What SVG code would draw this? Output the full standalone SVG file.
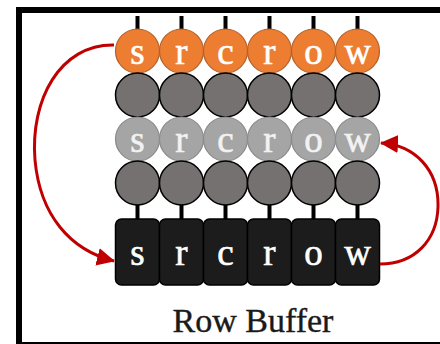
<svg xmlns="http://www.w3.org/2000/svg" width="440" height="344" viewBox="0 0 440 344">
<style>
.stem{stroke:#000;stroke-width:4}
.or{fill:#ED7D31;stroke:#B5602A;stroke-width:1.2}
.dk{fill:#767171;stroke:#000;stroke-width:1.5}
.lt{fill:#A5A5A5;stroke:#8A8A8A;stroke-width:1.2}
.bx{fill:#1C1C1C;stroke:#000;stroke-width:1.5}
.ch{font-family:"Liberation Serif","DejaVu Serif",serif;font-size:37px;fill:#fff;stroke:#fff;stroke-width:0.6;text-anchor:middle}
.ch2{fill:#F2F2F2;stroke:#F2F2F2}
.arr{fill:none;stroke:#C00000;stroke-width:3}
.title{font-family:"Liberation Serif","DejaVu Serif",serif;font-size:34px;fill:#1a1a1a;stroke:#1a1a1a;stroke-width:0.4;text-anchor:middle}
</style>
<defs>
<marker id="ah" markerUnits="userSpaceOnUse" markerWidth="22" markerHeight="22" viewBox="0 0 22 22" refX="17" refY="9" orient="auto">
<path d="M0,0 L18,9 L0,18 Z" fill="#C00000"/>
</marker>
</defs>
<rect x="19" y="10" width="430" height="335" fill="#fff" stroke="#000" stroke-width="6"/>
<g id="stems">
<line class="stem" x1="137.5" y1="16" x2="137.5" y2="30"/>
<line class="stem" x1="181.5" y1="16" x2="181.5" y2="30"/>
<line class="stem" x1="225.5" y1="16" x2="225.5" y2="30"/>
<line class="stem" x1="269.5" y1="16" x2="269.5" y2="30"/>
<line class="stem" x1="313.5" y1="16" x2="313.5" y2="30"/>
<line class="stem" x1="357.5" y1="16" x2="357.5" y2="30"/>
<line class="stem" x1="137.5" y1="204" x2="137.5" y2="220"/>
<line class="stem" x1="181.5" y1="204" x2="181.5" y2="220"/>
<line class="stem" x1="225.5" y1="204" x2="225.5" y2="220"/>
<line class="stem" x1="269.5" y1="204" x2="269.5" y2="220"/>
<line class="stem" x1="313.5" y1="204" x2="313.5" y2="220"/>
<line class="stem" x1="357.5" y1="204" x2="357.5" y2="220"/>
</g>
<g id="row-orange">
<circle class="or" cx="137.5" cy="51" r="22"/><circle class="or" cx="181.5" cy="51" r="22"/><circle class="or" cx="225.5" cy="51" r="22"/><circle class="or" cx="269.5" cy="51" r="22"/><circle class="or" cx="313.5" cy="51" r="22"/><circle class="or" cx="357.5" cy="51" r="22"/>
<text class="ch" x="137.5" y="64">s</text><text class="ch" x="181.5" y="64">r</text><text class="ch" x="225.5" y="64">c</text><text class="ch" x="269.5" y="64">r</text><text class="ch" x="313.5" y="64">o</text><text class="ch" x="357.5" y="64">w</text>
</g>
<g id="row-dark1">
<circle class="dk" cx="137.5" cy="95" r="22"/><circle class="dk" cx="181.5" cy="95" r="22"/><circle class="dk" cx="225.5" cy="95" r="22"/><circle class="dk" cx="269.5" cy="95" r="22"/><circle class="dk" cx="313.5" cy="95" r="22"/><circle class="dk" cx="357.5" cy="95" r="22"/>
</g>
<g id="row-light">
<circle class="lt" cx="137.5" cy="139" r="22"/><circle class="lt" cx="181.5" cy="139" r="22"/><circle class="lt" cx="225.5" cy="139" r="22"/><circle class="lt" cx="269.5" cy="139" r="22"/><circle class="lt" cx="313.5" cy="139" r="22"/><circle class="lt" cx="357.5" cy="139" r="22"/>
<text class="ch ch2" x="137.5" y="152">s</text><text class="ch ch2" x="181.5" y="152">r</text><text class="ch ch2" x="225.5" y="152">c</text><text class="ch ch2" x="269.5" y="152">r</text><text class="ch ch2" x="313.5" y="152">o</text><text class="ch ch2" x="357.5" y="152">w</text>
</g>
<g id="row-dark2">
<circle class="dk" cx="137.5" cy="183" r="22"/><circle class="dk" cx="181.5" cy="183" r="22"/><circle class="dk" cx="225.5" cy="183" r="22"/><circle class="dk" cx="269.5" cy="183" r="22"/><circle class="dk" cx="313.5" cy="183" r="22"/><circle class="dk" cx="357.5" cy="183" r="22"/>
</g>
<g id="row-buffer">
<rect class="bx" x="115.5" y="219" width="44" height="66" rx="6"/><rect class="bx" x="159.5" y="219" width="44" height="66" rx="6"/><rect class="bx" x="203.5" y="219" width="44" height="66" rx="6"/><rect class="bx" x="247.5" y="219" width="44" height="66" rx="6"/><rect class="bx" x="291.5" y="219" width="44" height="66" rx="6"/><rect class="bx" x="335.5" y="219" width="44" height="66" rx="6"/>
<text class="ch" x="137.5" y="265">s</text><text class="ch" x="181.5" y="265">r</text><text class="ch" x="225.5" y="265">c</text><text class="ch" x="269.5" y="265">r</text><text class="ch" x="313.5" y="265">o</text><text class="ch" x="357.5" y="265">w</text>
</g>
<g id="connectors">
<path class="arr" d="M114,45 C60,44 30,100 35,160 C40,215 70,250 114,261" marker-end="url(#ah)"/>
<path class="arr" d="M380,264 C415,264 437,240 438,207 C439,170 415,145 381,143" marker-end="url(#ah)"/>
</g>
<text class="title" x="253" y="332">Row Buffer</text>
</svg>
